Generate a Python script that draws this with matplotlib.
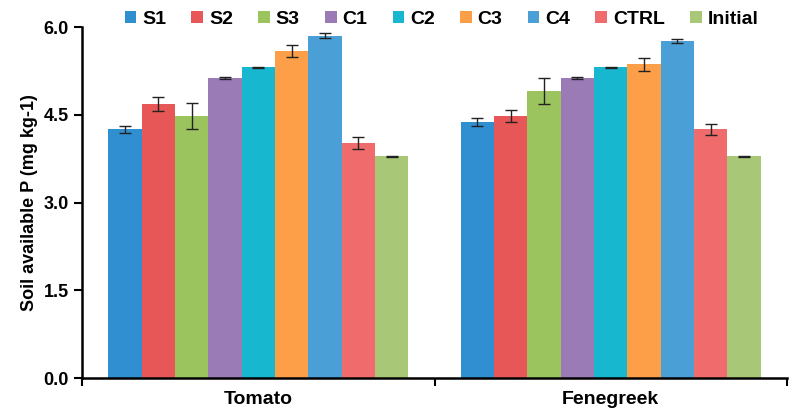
import numpy as np
import matplotlib
matplotlib.use('Agg')
import matplotlib.pyplot as plt
from matplotlib.ticker import FixedLocator, NullFormatter

plt.rcParams['font.family'] = ['Liberation Sans', 'DejaVu Sans']
plt.rcParams['font.weight'] = 'bold'

crops = ['Tomato', 'Fenegreek']
treatments = ['S1', 'S2', 'S3', 'C1', 'C2', 'C3', 'C4', 'CTRL', 'Initial']
colors = ['#2f8fd0', '#e85757', '#9cc45e', '#9a7bb6', '#17b7cf', '#fd9f48', '#4aa0d6', '#f06b6b', '#a8c878']

# mean values per treatment: [Tomato, Fenegreek]
means = {
    'S1': [4.25, 4.38],
    'S2': [4.68, 4.48],
    'S3': [4.48, 4.91],
    'C1': [5.13, 5.13],
    'C2': [5.31, 5.31],
    'C3': [5.59, 5.36],
    'C4': [5.85, 5.76],
    'CTRL': [4.02, 4.25],
    'Initial': [3.79, 3.79],
}
errors = {
    'S1': [0.06, 0.07],
    'S2': [0.12, 0.11],
    'S3': [0.22, 0.22],
    'C1': [0.01, 0.01],
    'C2': [0.01, 0.01],
    'C3': [0.10, 0.11],
    'C4': [0.04, 0.03],
    'CTRL': [0.10, 0.10],
    'Initial': [0.005, 0.005],
}

fig = plt.figure(figsize=(7.9, 4.16), dpi=100)
ax = fig.add_axes([0.104, 0.091, 0.892, 0.844])

x = np.arange(len(crops))
n = len(treatments)
width = 0.851 / n
for i, t in enumerate(treatments):
    pos = x - 0.851 / 2 + width * (i + 0.5)
    ax.bar(pos, means[t], width, color=colors[i], label=t,
           yerr=errors[t], capsize=4,
           error_kw={'elinewidth': 1, 'capthick': 1, 'ecolor': '#222222'})

ax.set_xlim(-0.5, 1.5)
ax.set_ylim(0, 6)
ax.set_yticks([0, 1.5, 3.0, 4.5, 6.0])
ax.set_yticklabels(['0.0', '1.5', '3.0', '4.5', '6.0'])
ax.set_xticks(x)
ax.set_xticklabels(crops, fontsize=14, fontweight='bold')
ax.tick_params(axis='x', which='major', length=0, pad=9)
ax.xaxis.set_minor_locator(FixedLocator([-0.5, 0.5, 1.5]))
ax.xaxis.set_minor_formatter(NullFormatter())
ax.tick_params(axis='x', which='minor', length=6, width=1.5)
ax.tick_params(axis='y', labelsize=13, length=6, width=1.5)
ax.set_ylabel('Soil available P (mg kg-1)', fontsize=13, fontweight='bold')

for s in ['top', 'right']:
    ax.spines[s].set_visible(False)
for s in ['left', 'bottom']:
    ax.spines[s].set_linewidth(1.8)

ax.legend(loc='lower center', bbox_to_anchor=(0.51, 0.975), ncol=9, frameon=False,
          fontsize=14, handlelength=0.6, handleheight=0.6, handletextpad=0.3,
          columnspacing=1.3, borderaxespad=0)

fig.savefig('out.png', dpi=100)
